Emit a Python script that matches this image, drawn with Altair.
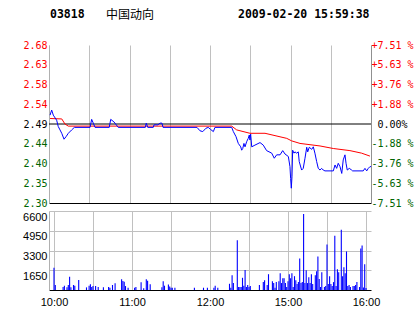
import json
import altair as alt
import pandas as pd

# ---------------- header ----------------
code = "03818"
name = "中国动向"
stamp = "2009-02-20 15:59:38"

# ---------------- scale facts ----------------
prev_close = 2.49
max_pct = 7.51
session_minutes = 240
vol_max = 6600
vol_ticks = [1650, 3300, 4950, 6600]

x_grid_minutes = [0, 30, 60, 90, 120, 150, 180, 210, 240]
x_tick_minutes = [0, 60, 120, 180, 240]
x_tick_labels = ["10:00", "11:00", "12:00", "15:00", "16:00"]

pct_labels = ["-7.51 %", "-5.63 %", "-3.76 %", "-1.88 %", "\u200b\u00a00.00%",
              "+1.88 %", "+3.76 %", "+5.63 %", "+7.51 %"]

# ---------------- price (blue) ----------------
price_min = [0.8, 2.0, 3.2, 5.7, 6.9, 8.2, 9.5, 11.2, 12.7, 14.4, 16.9, 18.9,
             30.6, 31.8, 33.0, 34.3, 44.9, 46.0, 48.4, 50.9, 51.6, 71.8, 72.5,
             73.6, 77.7, 78.3, 81.2, 82.7, 84.2, 85.0, 110.3, 112.5, 114.6,
             117.0, 118.7, 120.5, 122.5, 123.7, 136.2, 137.4, 139.4, 141.1,
             142.9, 143.6, 144.4, 145.3, 146.1, 147.3, 148.5, 149.3, 149.8,
             150.3, 151.1, 153.5, 157.3, 159.7, 162.2, 166.0, 167.9, 169.7,
             172.2, 174.2, 175.9, 178.4, 179.6, 180.1, 180.6, 181.1, 181.6,
             182.6, 183.3, 184.6, 185.8, 186.5, 188.3, 189.5, 190.8, 192.1,
             192.8, 194.0, 195.8, 197.0, 198.2, 199.5, 200.7, 202.0, 203.2,
             204.4, 205.7, 211.9, 213.2, 214.4, 215.6, 216.9, 218.2, 219.3,
             220.6, 221.4, 222.3, 223.8, 225.6, 226.3, 234.2, 235.5, 236.8,
             238.0, 239.2, 240.0]
price_val = [2.511, 2.523, 2.511, 2.499, 2.484, 2.476, 2.468, 2.454, 2.460,
             2.468, 2.476, 2.482, 2.482, 2.501, 2.492, 2.482, 2.482, 2.501,
             2.495, 2.485, 2.482, 2.482, 2.492, 2.482, 2.482, 2.488, 2.488,
             2.492, 2.492, 2.482, 2.482, 2.474, 2.472, 2.480, 2.482, 2.477,
             2.472, 2.482, 2.482, 2.472, 2.460, 2.444, 2.436, 2.428, 2.432,
             2.444, 2.436, 2.448, 2.456, 2.464, 2.452, 2.466, 2.436, 2.440,
             2.446, 2.440, 2.427, 2.421, 2.409, 2.417, 2.417, 2.427, 2.419,
             2.413, 2.389, 2.361, 2.338, 2.365, 2.428, 2.421, 2.424, 2.421,
             2.424, 2.401, 2.381, 2.385, 2.409, 2.435, 2.424, 2.435, 2.430,
             2.436, 2.421, 2.401, 2.385, 2.381, 2.385, 2.381, 2.379, 2.379,
             2.393, 2.385, 2.397, 2.389, 2.373, 2.405, 2.417, 2.397, 2.381,
             2.385, 2.381, 2.379, 2.379, 2.385, 2.379, 2.385, 2.389, 2.389]

# ---------------- average price (red) ----------------
avg_min = [0.8, 9.5, 11.9, 14.4, 136.2, 139.9, 149.8, 161.0, 177.2, 180.9,
           187.1, 202.0, 211.9, 224.3, 233.0, 239.2]
avg_val = [2.503, 2.502, 2.490, 2.485, 2.485, 2.476, 2.468, 2.468, 2.456,
           2.450, 2.444, 2.438, 2.432, 2.427, 2.421, 2.414]

# ---------------- volume ----------------
vol_min = [0, 1, 7, 8, 10, 11, 12, 13, 15, 16, 19, 25, 27, 28, 29, 30, 32, 34,
           38, 42, 43, 45, 47, 52, 53, 54, 55, 57, 62, 63, 67, 69, 71, 72, 74,
           83, 84, 85, 88, 89, 90, 91, 93, 108, 115, 118, 123, 124, 126, 135,
           136, 137, 138, 141, 142, 143, 144, 145, 146, 147, 148, 149, 150,
           151, 158, 161, 162, 164, 165, 168, 169, 170, 171, 173, 174, 175,
           176, 177, 178, 179, 180, 181, 182, 183, 184, 185, 186, 187, 188,
           189, 190, 191, 192, 193, 194, 195, 196, 197, 198, 199, 201, 202,
           203, 204, 205, 206, 208, 209, 210, 211, 212, 213, 214, 215, 216,
           217, 218, 219, 221, 222, 223, 224, 225, 226, 227, 228, 230, 231,
           232, 233, 235, 236, 237, 238, 239, 240]
vol_val = [1860, 420, 250, 360, 220, 420, 1110, 220, 420, 360, 835, 220, 360,
           470, 250, 330, 330, 250, 220, 250, 190, 420, 560, 890, 750, 695,
           330, 190, 190, 250, 640, 140, 890, 780, 470, 220, 725, 360, 450,
           300, 190, 190, 190, 190, 190, 190, 190, 360, 190, 520, 190, 1240,
           580, 4150, 250, 250, 250, 1020, 360, 1680, 250, 410, 250, 330, 410,
           660, 825, 410, 1320, 740, 580, 190, 660, 740, 1400, 580, 990, 990,
           580, 250, 740, 1320, 990, 1400, 250, 1155, 825, 500, 660, 2640,
           580, 660, 6350, 580, 1650, 580, 1070, 580, 1320, 500, 1240, 1570,
           2800, 910, 250, 1485, 250, 330, 3800, 500, 1155, 500, 330, 660,
           4540, 330, 1730, 1485, 5030, 1155, 1900, 1400, 3220, 330, 410, 250,
           330, 330, 410, 660, 250, 3470, 3710, 200, 2150, 165]

price_df = pd.DataFrame({"m": price_min, "p": price_val})
avg_df = pd.DataFrame({"m": avg_min, "p": avg_val})
vol_df = pd.DataFrame({"m": vol_min, "v": vol_val})
prev_df = pd.DataFrame({"p": [prev_close]})

step = prev_close * max_pct / 100 / 4
price_ticks = [prev_close + step * i for i in range(-4, 5)]
lo, hi = price_ticks[0], price_ticks[-1]

RED, GREEN, BLACK = "#ff0000", "#006400", "#000000"
GRID = "#c0c0c0"

label_color = {
    "condition": [
        {"test": f"datum.value > {prev_close + step / 2}", "value": RED},
        {"test": f"datum.value < {prev_close - step / 2}", "value": GREEN},
    ],
    "value": BLACK,
}

x_scale = alt.Scale(domain=[0, session_minutes], nice=False, zero=False)
y_scale = alt.Scale(domain=[lo, hi], nice=False, zero=False)

x_price = alt.X("m:Q", scale=x_scale, title=None,
                axis=alt.Axis(values=x_grid_minutes, labels=False, ticks=False,
                              domainColor=BLACK, gridColor=GRID, minExtent=0,
                              maxExtent=0))

left_axis = alt.Axis(values=price_ticks, format=".2f", orient="left",
                     ticks=False, labelPadding=2, labelFont="DejaVu Sans Mono",
                     labelFontSize=10, labelColor=label_color,
                     domainColor="#b0b0b0", gridColor=GRID, title=None,
                     minExtent=0, labelOverlap=False, labelFlush=False)

pct_expr = (json.dumps(pct_labels, ensure_ascii=False)
            + f"[round((datum.value - {prev_close}) / {step}) + 4]")
right_axis = alt.Axis(values=price_ticks, labelExpr=pct_expr, orient="right",
                      ticks=False, labelPadding=0, grid=False,
                      labelFont="DejaVu Sans Mono", labelFontSize=10,
                      labelColor=label_color, domainColor="#909090",
                      title=None, minExtent=0, labelOverlap=False,
                      labelFlush=False)

rule = alt.Chart(prev_df).mark_rule(color=BLACK, strokeWidth=1).encode(
    y=alt.Y("p:Q", scale=y_scale, axis=None))

red = alt.Chart(avg_df).mark_line(color=RED, strokeWidth=1).encode(
    x=x_price, y=alt.Y("p:Q", scale=y_scale, axis=right_axis))

blue = alt.Chart(price_df).mark_line(color="#0000ff", strokeWidth=1).encode(
    x=x_price, y=alt.Y("p:Q", scale=y_scale, axis=left_axis))

def header(txt, x, font, size, weight):
    return alt.Chart(pd.DataFrame({"t": [txt]})).mark_text(
        align="left", baseline="middle", font=font, fontSize=size,
        fontWeight=weight, color=BLACK).encode(
        text="t:N", x=alt.value(x), y=alt.value(-30))

h1 = header(code, 1, "DejaVu Sans Mono", 11.5, "bold")
h2 = header(name, 57, "Noto Sans CJK SC", 12, "normal")
h3 = header(stamp, 189, "DejaVu Sans Mono", 11.5, "bold")

price = alt.layer(rule, red, blue, h1, h2, h3).resolve_scale(
    y="independent").properties(width=322, height=158)

x_label_expr = "".join(f"datum.value == {m} ? '{l}' : "
                       for m, l in zip(x_tick_minutes, x_tick_labels)) + "''"

bars = alt.Chart(vol_df).mark_bar(color="#0000ff", size=1.1).encode(
    x=alt.X("m:Q", scale=x_scale, title=None,
            axis=alt.Axis(values=x_grid_minutes, labelExpr=x_label_expr,
                          ticks=False, domainColor=BLACK, gridColor=GRID,
                          labelFont="Liberation Sans", labelFontSize=11,
                          labelPadding=6, labelFlush=False, labelOverlap=False,
                          labelColor=BLACK, minExtent=0)),
    y=alt.Y("v:Q", scale=alt.Scale(domain=[0, vol_max], nice=False),
            title=None,
            axis=alt.Axis(values=vol_ticks, format="d", labelBaseline="top",
                          ticks=False, labelPadding=2,
                          labelFont="Liberation Sans", labelFontSize=11,
                          labelColor=BLACK, domainColor="#b0b0b0",
                          gridColor=GRID, minExtent=0)),
).properties(width=322, height=79)

chart = alt.vconcat(price, bars, spacing=3).properties(
    padding={"left": 22, "top": 9, "right": 0, "bottom": 0},
    background="white",
).configure_view(stroke=None)

chart.save("out.html", embed_options={"renderer": "svg", "actions": False})
